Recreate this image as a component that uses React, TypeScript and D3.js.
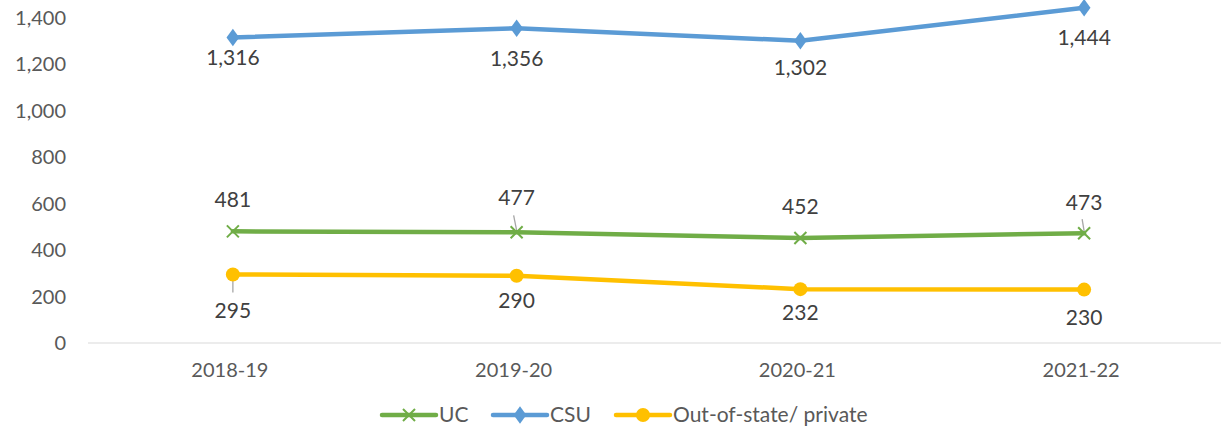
import { useEffect, useRef } from 'react';
import * as d3 from 'd3';

const years = ['2018-19', '2019-20', '2020-21', '2021-22'];
const ucValues = [481, 477, 452, 473];
const csuValues = [1316, 1356, 1302, 1444];
const outValues = [295, 290, 232, 230];
const yTicks = [0, 200, 400, 600, 800, 1000, 1200, 1400];

// label offsets from each point (dy) – like Excel's manually dragged labels
const ucLabelDy = [-32, -35, -31, -31];
const csuLabelDy = [20, 30, 27, 30];
const outLabelDy = [36, 25, 24, 28];

export default function App() {
    const ref = useRef<SVGSVGElement | null>(null);

    useEffect(() => {
        const width = 1221;
        const height = 435;
        const font = 'Lato, "Open Sans", sans-serif';
        const fs = '20px';
        const fsLabel = '21px';

        const svg = d3.select(ref.current);
        svg.selectAll('*').remove();

        const x = d3.scaleBand<string>().domain(years).range([91, 1226]);
        const cx = (d: string) => x(d)! + x.bandwidth() / 2;
        const y = d3.scaleLinear().domain([0, 1400]).range([343, 18]);

        // === Y axis labels ===
        svg.append('g')
            .selectAll('text')
            .data(yTicks)
            .enter()
            .append('text')
            .attr('x', 66)
            .attr('y', (d) => y(d))
            .attr('dy', '0.35em')
            .attr('text-anchor', 'end')
            .attr('font-family', font)
            .attr('font-size', fs)
            .attr('fill', '#595959')
            .text((d) => d3.format(',')(d));

        // baseline
        svg.append('line')
            .attr('x1', 88)
            .attr('x2', 1221)
            .attr('y1', y(0))
            .attr('y2', y(0))
            .attr('stroke', '#d9d9d9')
            .attr('stroke-width', 1.2);

        // === X axis labels ===
        svg.append('g')
            .selectAll('text')
            .data(years)
            .enter()
            .append('text')
            .attr('x', (d) => cx(d) - 3)
            .attr('y', 377)
            .attr('text-anchor', 'middle')
            .attr('font-family', font)
            .attr('font-size', fs)
            .attr('fill', '#595959')
            .text((d) => d);

        const line = d3.line<number>()
            .x((_, i) => cx(years[i]))
            .y((d) => y(d));

        const series = [
            { name: 'UC', values: ucValues, color: '#70AD47', marker: 'x', dy: ucLabelDy },
            { name: 'CSU', values: csuValues, color: '#5B9BD5', marker: 'diamond', dy: csuLabelDy },
            { name: 'Out-of-state/ private', values: outValues, color: '#FFC000', marker: 'circle', dy: outLabelDy },
        ];

        const drawMarker = (g: any, kind: string, color: string, px: number, py: number) => {
            if (kind === 'x') {
                const s = 6;
                g.append('path')
                    .attr('d', `M${px - s},${py - s}L${px + s},${py + s}M${px - s},${py + s}L${px + s},${py - s}`)
                    .attr('stroke', color)
                    .attr('stroke-width', 2)
                    .attr('fill', 'none');
            } else if (kind === 'diamond') {
                g.append('path')
                    .attr('d', d3.symbol(d3.symbolDiamond, 90)()!)
                    .attr('transform', `translate(${px},${py}) scale(1.25,1)`)
                    .attr('fill', color);
            } else {
                g.append('circle')
                    .attr('cx', px)
                    .attr('cy', py)
                    .attr('r', 7)
                    .attr('fill', color);
            }
        };

        // leader lines (drawn under the series)
        const leaders = svg.append('g').attr('stroke', '#a6a6a6').attr('stroke-width', 1.3);
        leaders.append('line')
            .attr('x1', cx(years[0])).attr('x2', cx(years[0]))
            .attr('y1', y(outValues[0]) + 6).attr('y2', y(outValues[0]) + 18);
        leaders.append('line')
            .attr('x1', cx(years[1]) - 3).attr('x2', cx(years[1]))
            .attr('y1', y(ucValues[1]) - 17).attr('y2', y(ucValues[1]) - 2);
        leaders.append('line')
            .attr('x1', cx(years[3]) - 2).attr('x2', cx(years[3]))
            .attr('y1', y(ucValues[3]) - 14).attr('y2', y(ucValues[3]) - 2);

        series.forEach((s) => {
            const g = svg.append('g');
            g.append('path')
                .datum(s.values)
                .attr('d', line)
                .attr('fill', 'none')
                .attr('stroke', s.color)
                .attr('stroke-width', 4.5)
                .attr('stroke-linejoin', 'round')
                .attr('stroke-linecap', 'round');

            s.values.forEach((v, i) => drawMarker(g, s.marker, s.color, cx(years[i]), y(v)));

            // data labels
            g.selectAll('text.lbl')
                .data(s.values)
                .enter()
                .append('text')
                .attr('class', 'lbl')
                .attr('x', (_, i) => cx(years[i]))
                .attr('y', (d, i) => y(d) + s.dy[i])
                .attr('dy', '0.35em')
                .attr('text-anchor', 'middle')
                .attr('font-family', font)
                .attr('font-size', fsLabel)
                .attr('fill', '#404040')
                .text((d) => d3.format(',')(d));
        });

        // === Legend ===
        const legendX = [382, 493, 616];
        const legend = svg.append('g');
        series.forEach((s, i) => {
            const lx = legendX[i];
            const ly = 415;
            legend.append('line')
                .attr('x1', lx).attr('x2', lx + 54)
                .attr('y1', ly).attr('y2', ly)
                .attr('stroke', s.color)
                .attr('stroke-width', 4.5)
                .attr('stroke-linecap', 'round');
            drawMarker(legend, s.marker, s.color, lx + 27, ly);
            legend.append('text')
                .attr('x', lx + 57)
                .attr('y', ly)
                .attr('dy', '0.35em')
                .attr('font-family', font)
                .attr('font-size', fsLabel)
                .attr('fill', '#595959')
                .text(s.name);
        });

        svg.attr('width', width).attr('height', height);
    }, []);

    return (
        <svg
            ref={ref}
            width={1221}
            height={435}
            style={{ position: 'absolute', left: 0, top: 0 }}
        />
    );
}
